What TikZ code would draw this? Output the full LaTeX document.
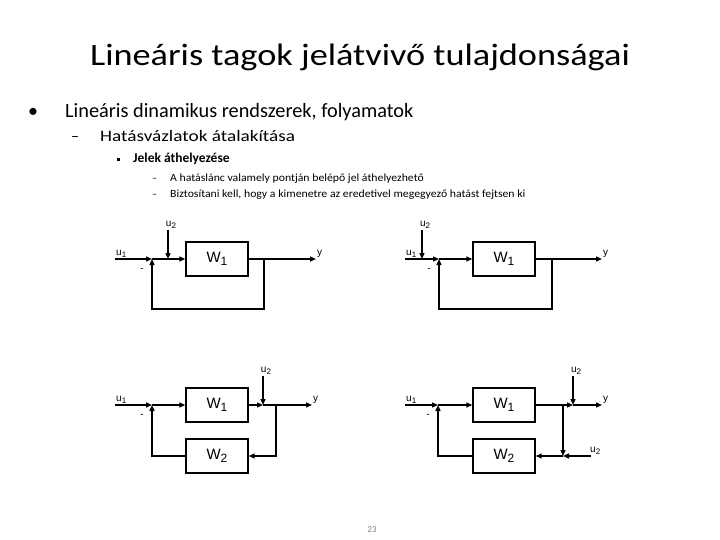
\documentclass[tikz,border=0pt]{standalone}
\usepackage{fontspec}
\setmainfont{Carlito}
\newfontfamily\diagfont{Liberation Sans}
\newfontfamily\titlefont[FakeStretch=1.17]{Carlito}
\newfontfamily\widefont[FakeStretch=1.2]{Carlito}
\newfontfamily\smallwide[FakeStretch=1.07]{Carlito}
\usetikzlibrary{arrows.meta,calc}

\newcommand{\lsub}[2]{#1\raisebox{-0.4ex}{\scalebox{0.8}{#2}}}
\newcommand{\fs}[1]{\fontsize{#1}{#1}\selectfont}

\tikzset{
  sig/.style={line width=1.4pt},
  arr/.style={sig, -{Triangle[length=6pt,width=5pt]}},
  blk/.style={draw, line width=1.4pt, minimum width=62pt, minimum height=34pt,
    inner sep=0pt, font=\diagfont\fs{15}},
  lbl/.style={font=\diagfont\fs{10}, inner sep=1pt},
  txt/.style={anchor=base west, inner sep=0pt},
}

\begin{document}
\begin{tikzpicture}[x=1pt, y=-1pt]
    \useasboundingbox (0,0) rectangle (720,540);

    % ---------- heading and bullets ----------
    \node[anchor=base, inner sep=0pt, font=\titlefont\fs{31}] (title) at (360,66) {Lineáris tagok jelátvivő tulajdonságai};
    \node[txt, font=\fs{20}] (b1) at (28,118) {•};
    \node[txt, font=\fs{20.3}] (l1) at (65,118) {Lineáris dinamikus rendszerek, folyamatok};
    \node[txt, font=\fs{16}] (b2) at (71,142) {–};
    \node[txt, font=\widefont\fs{16}] (l2) at (100,142) {Hatásvázlatok átalakítása};
    \node[txt] (b3) at (117,161) {\rule{3pt}{3pt}};
    \node[txt, font=\bfseries\fs{13.5}] (l3) at (133,163) {Jelek áthelyezése};
    \node[txt, font=\fs{10}] (b4) at (152,182) {–};
    \node[txt, font=\smallwide\fs{11}] (l4) at (170,182) {A hatáslánc valamely pontján belépő jel áthelyezhető};
    \node[txt, font=\fs{10}] (b5) at (152,198) {–};
    \node[txt, font=\smallwide\fs{11}] (l5) at (170,198) {Biztosítani kell, hogy a kimenetre az eredetivel megegyező hatást fejtsen ki};

    % ---------- (a) u2 behind the summing point ----------
    \begin{scope}
        \coordinate (ain) at (115,259);
        \coordinate (asum) at (152,259);
        \coordinate (au2) at (168,230);
        \coordinate (aj) at (168,259);
        \node[blk] (aw1) at (217,259) {\lsub{W}{1}};
        \coordinate (ab) at (264,259);
        \coordinate (aout) at (316,259);
        \coordinate (afb) at (152,309);
        \node[lbl, anchor=south west] (au1l) at (ain) {\lsub{u}{1}};
        \node[lbl, anchor=south, xshift=3pt] (au2l) at (au2) {\lsub{u}{2}};
        \node[lbl, anchor=west, yshift=5pt] (ayl) at (aout) {y};
        \node[lbl] (am) at ($(asum)+(-10,11)$) {-};
        \draw[arr] (ain) -- (asum);
        \draw[arr] (asum) -- (aw1.west);
        \draw[arr] (au2) -- (aj);
        \draw[sig] (aw1.east) -- (ab);
        \draw[arr] (ab) -- (aout);
        \draw[arr] (ab) |- (afb) -- (asum);
    \end{scope}

    % ---------- (b) u2 moved before the summing point ----------
    \begin{scope}[shift={(287,0)}]
        \coordinate (bin) at (118,259);
        \coordinate (bj) at (135,259);
        \coordinate (bu2) at (135,230);
        \coordinate (bsum) at (152,259);
        \node[blk] (bw1) at (217,259) {\lsub{W}{1}};
        \coordinate (bb) at (265,259);
        \coordinate (bout) at (315,259);
        \coordinate (bfb) at (152,309);
        \node[lbl, anchor=south west] (bu1l) at (bin) {\lsub{u}{1}};
        \node[lbl, anchor=south, xshift=3pt] (bu2l) at (bu2) {\lsub{u}{2}};
        \node[lbl, anchor=west, yshift=5pt] (byl) at (bout) {y};
        \node[lbl] (bm) at ($(bsum)+(-10,11)$) {-};
        \draw[sig] (bin) -- (bj);
        \draw[arr] (bu2) -- (bj);
        \draw[arr] (bj) -- (bsum);
        \draw[arr] (bsum) -- (bw1.west);
        \draw[sig] (bw1.east) -- (bb);
        \draw[arr] (bb) -- (bout);
        \draw[arr] (bb) |- (bfb) -- (bsum);
    \end{scope}

    % ---------- (c) u2 at the output ----------
    \begin{scope}[shift={(0,146)}]
        \coordinate (cin) at (115,259);
        \coordinate (csum) at (152,259);
        \node[blk] (cw1) at (217,259) {\lsub{W}{1}};
        \coordinate (cj) at (263,259);
        \coordinate (cu2) at (263,230);
        \coordinate (cb) at (276,259);
        \coordinate (cout) at (312,259);
        \node[blk] (cw2) at (217,310) {\lsub{W}{2}};
        \node[lbl, anchor=south west] (cu1l) at (cin) {\lsub{u}{1}};
        \node[lbl, anchor=south, xshift=3pt] (cu2l) at (cu2) {\lsub{u}{2}};
        \node[lbl, anchor=west, yshift=5pt] (cyl) at (cout) {y};
        \node[lbl] (cm) at ($(csum)+(-10,11)$) {-};
        \draw[arr] (cin) -- (csum);
        \draw[arr] (csum) -- (cw1.west);
        \draw[arr] (cw1.east) -- (cj);
        \draw[arr] (cu2) -- (cj);
        \draw[arr] (cj) -- (cout);
        \draw[arr] (cb) |- (cw2.east);
        \draw[arr] (cw2.west) -| (csum);
    \end{scope}

    % ---------- (d) u2 also fed into the feedback path ----------
    \begin{scope}[shift={(287,146)}]
        \coordinate (din) at (118,259);
        \coordinate (dsum) at (151,259);
        \node[blk] (dw1) at (217,259) {\lsub{W}{1}};
        \coordinate (db) at (276,259);
        \coordinate (dj) at (286,259);
        \coordinate (du2) at (286,230);
        \coordinate (dout) at (315,259);
        \coordinate (dj2) at (276,310);
        \coordinate (du2r) at (304,310);
        \node[blk] (dw2) at (217,310) {\lsub{W}{2}};
        \node[lbl, anchor=south west] (du1l) at (din) {\lsub{u}{1}};
        \node[lbl, anchor=south, xshift=3pt] (du2l) at (du2) {\lsub{u}{2}};
        \node[lbl, anchor=south west, xshift=-2pt] (du2rl) at (du2r) {\lsub{u}{2}};
        \node[lbl, anchor=west, yshift=5pt] (dyl) at (dout) {y};
        \node[lbl] (dm) at ($(dsum)+(-10,11)$) {-};
        \draw[arr] (din) -- (dsum);
        \draw[arr] (dsum) -- (dw1.west);
        \draw[arr] (dw1.east) -- (dj);
        \draw[arr] (du2) -- (dj);
        \draw[arr] (dj) -- (dout);
        \draw[arr] (db) -- (dj2);
        \draw[arr] (du2r) -- (dj2);
        \draw[arr] (dj2) -- (dw2.east);
        \draw[arr] (dw2.west) -| (dsum);
    \end{scope}

    \node[font=\fs{9}, text=gray, inner sep=0pt] (page) at (372,530) {23};
\end{tikzpicture}
\end{document}
